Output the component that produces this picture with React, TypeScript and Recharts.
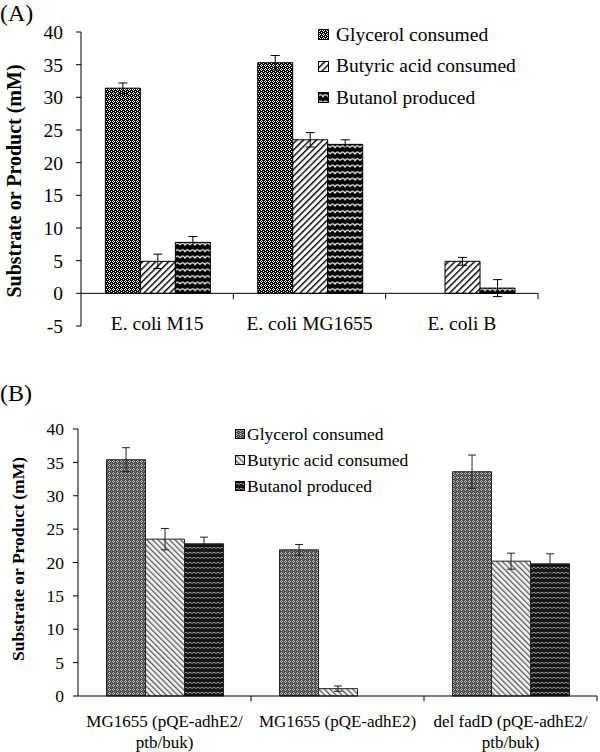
import React from "react";
import { BarChart, Bar, XAxis, YAxis, ErrorBar, Legend, ReferenceLine } from "recharts";

const SERIF = "'Liberation Serif', 'Times New Roman', serif";

const seriesNames = ["Glycerol consumed", "Butyric acid consumed", "Butanol produced"];

// panel A
const strainsA = ["E. coli M15", "E. coli MG1655", "E. coli B"];
const glycerolA = [31.4, 35.3, 0];
const glycerolErrA = [0.8, 1.1, null];
const butyricA = [4.9, 23.5, 4.9];
const butyricErrA = [1.1, 1.1, 0.6];
const butanolA = [7.8, 22.8, 0.8];
const butanolErrA = [0.9, 0.7, 1.3];
const yTicksA = [-5, 0, 5, 10, 15, 20, 25, 30, 35, 40];

// panel B
const strainsB = ["MG1655 (pQE-adhE2/\nptb/buk)", "MG1655 (pQE-adhE2)", "del fadD (pQE-adhE2/\nptb/buk)"];
const glycerolB = [35.4, 21.9, 33.6];
const glycerolErrB = [1.8, 0.8, 2.5];
const butyricB = [23.5, 1.1, 20.2];
const butyricErrB = [1.6, 0.4, 1.2];
const butanolB = [22.8, 0, 19.8];
const butanolErrB = [1.0, null, 1.5];
const yTicksB = [0, 5, 10, 15, 20, 25, 30, 35, 40];

const dataA = strainsA.map((strain, i) => ({
  strain,
  gly: glycerolA[i],
  glyErr: glycerolErrA[i],
  but: butyricA[i],
  butErr: butyricErrA[i],
  bol: butanolA[i],
  bolErr: butanolErrA[i],
}));

const dataB = strainsB.map((strain, i) => ({
  strain,
  gly: glycerolB[i],
  glyErr: glycerolErrB[i],
  but: butyricB[i],
  butErr: butyricErrB[i],
  bol: butanolB[i],
  bolErr: butanolErrB[i],
}));

function makeLegend(fontSize: number, rowH: number, box: number, gap: number) {
  return ({ payload }: any) => {
    // keep the series order (recharts sorts legend items by name)
    const items = [...(payload || [])].sort(
      (a: any, b: any) => seriesNames.indexOf(a.value) - seriesNames.indexOf(b.value)
    );
    return (
      <div style={{ fontFamily: SERIF, fontSize, color: "#000" }}>
        {items.map((p: any) => (
          <div key={p.value} style={{ display: "flex", alignItems: "center", height: rowH, whiteSpace: "nowrap" }}>
            <svg width={box} height={box} style={{ marginRight: gap, flex: "none" }}>
              <rect x={0.5} y={0.5} width={box - 1} height={box - 1} fill={p.payload?.fill ?? p.color} stroke="#000" />
            </svg>
            <span>{p.value}</span>
          </div>
        ))}
      </div>
    );
  };
}

const tickA = (props: any) => {
  const { x, y, payload } = props;
  return (
    <text x={x} y={y + 4} textAnchor="middle" fontFamily={SERIF} fontSize={19.5} fill="#000">
      {payload.value}
    </text>
  );
};

const tickB = (props: any) => {
  const { x, y, payload } = props;
  const lines = String(payload.value).split("\n");
  return (
    <text x={x} y={y + 31} textAnchor="middle" fontFamily={SERIF} fontSize={17} fill="#000">
      {lines.map((l, i) => (
        <tspan key={i} x={x} dy={i ? 21 : 0}>
          {l}
        </tspan>
      ))}
    </text>
  );
};

function PanelA() {
  return (
    <BarChart
      width={600}
      height={352}
      data={dataA}
      margin={{ top: 32, right: 62, bottom: 6, left: 0 }}
      barCategoryGap="16%"
      barGap={0}
    >
      <defs>
        <pattern id="glyA" width={4} height={4} patternUnits="userSpaceOnUse">
          <rect width={4} height={4} fill="#000" />
          <rect x={1} y={0} width={1} height={1} fill="#fff" />
          <rect x={0} y={1} width={1} height={1} fill="#fff" />
          <rect x={2} y={1} width={1} height={1} fill="#fff" />
          <rect x={1} y={2} width={1} height={1} fill="#fff" />
          <rect x={3} y={3} width={1} height={1} fill="#fff" />
        </pattern>
        <pattern id="butA" width={4.6} height={4.6} patternUnits="userSpaceOnUse" patternTransform="rotate(45)">
          <rect width={4.6} height={4.6} fill="#fff" />
          <rect width={1.4} height={4.6} fill="#000" />
        </pattern>
        <pattern id="bolA" width={10} height={6.5} patternUnits="userSpaceOnUse">
          <rect width={10} height={6.5} fill="#000" />
          <path d="M0 4.6 Q2.5 0.6 5 4.6 Q7.5 0.6 10 4.6" stroke="#fff" strokeWidth={1.2} fill="none" />
        </pattern>
      </defs>
      <text x={0} y={21} fontFamily={SERIF} fontSize={24} fill="#000">
        (A)
      </text>
      <text
        x={14}
        y={181}
        transform="rotate(-90 14 181)"
        textAnchor="middle"
        dominantBaseline="central"
        fontFamily={SERIF}
        fontWeight="bold"
        fontSize={20}
        fill="#000"
      >
        Substrate or Product (mM)
      </text>
      <XAxis
        dataKey="strain"
        axisLine={false}
        tickLine={false}
        tickSize={0}
        tickMargin={0}
        height={20}
        interval={0}
        tick={tickA}
      />
      <YAxis
        domain={[-5, 40]}
        ticks={yTicksA}
        interval={0}
        width={81}
        tickSize={5}
        tickMargin={13}
        axisLine={{ stroke: "#000" }}
        tickLine={{ stroke: "#000" }}
        tick={{ fill: "#000", fontSize: 19.5, fontFamily: SERIF }}
        allowDataOverflow
      />
      <Legend
        layout="vertical"
        align="center"
        verticalAlign="middle"
        wrapperStyle={{ top: 19, left: 318, width: "auto" }}
        content={makeLegend(19.5, 31.5, 11, 7)}
      />
      <Bar dataKey="gly" name={seriesNames[0]} fill="url(#glyA)" stroke="#000" strokeWidth={1} isAnimationActive={false}>
        <ErrorBar dataKey="glyErr" width={4.5} stroke="#000" strokeWidth={1} direction="y" />
      </Bar>
      <Bar dataKey="but" name={seriesNames[1]} fill="url(#butA)" stroke="#000" strokeWidth={1} isAnimationActive={false}>
        <ErrorBar dataKey="butErr" width={4.5} stroke="#000" strokeWidth={1} direction="y" />
      </Bar>
      <Bar dataKey="bol" name={seriesNames[2]} fill="url(#bolA)" stroke="#000" strokeWidth={1} isAnimationActive={false}>
        <ErrorBar dataKey="bolErr" width={4.5} stroke="#000" strokeWidth={1} direction="y" />
      </Bar>
      <ReferenceLine y={0} stroke="#000" strokeWidth={1} />
      {strainsA.map((s) => (
        <ReferenceLine
          key={s}
          segment={[
            { x: s, y: 0 },
            { x: s, y: -0.9 },
          ]}
          position="end"
          stroke="#000"
          ifOverflow="visible"
        />
      ))}
    </BarChart>
  );
}

function PanelB() {
  return (
    <BarChart
      width={600}
      height={392}
      data={dataB}
      margin={{ top: 69, right: 3, bottom: 6, left: 0 }}
      barCategoryGap="16.5%"
      barGap={0}
    >
      <defs>
        <pattern id="glyB" width={4} height={4} patternUnits="userSpaceOnUse">
          <rect width={4} height={4} fill="#4a4a4a" />
          <rect x={1} y={0} width={1} height={1} fill="#c4c4c4" />
          <rect x={0} y={1} width={1} height={1} fill="#c4c4c4" />
          <rect x={2} y={1} width={1} height={1} fill="#c4c4c4" />
          <rect x={1} y={2} width={1} height={1} fill="#c4c4c4" />
          <rect x={3} y={3} width={1} height={1} fill="#8a8a8a" />
        </pattern>
        <pattern id="butB" width={4} height={4} patternUnits="userSpaceOnUse" patternTransform="rotate(-45)">
          <rect width={4} height={4} fill="#f4f4f4" />
          <rect width={1.3} height={4} fill="#5a5a5a" />
        </pattern>
        <pattern id="bolB" width={8} height={5} patternUnits="userSpaceOnUse">
          <rect width={8} height={5} fill="#151515" />
          <path d="M0 3.6 Q2 0.6 4 3.6 Q6 0.6 8 3.6" stroke="#9a9a9a" strokeWidth={1} fill="none" />
        </pattern>
      </defs>
      <text x={0} y={41} fontFamily={SERIF} fontSize={24} fill="#000">
        (B)
      </text>
      <text
        x={18}
        y={199}
        transform="rotate(-90 18 199)"
        textAnchor="middle"
        dominantBaseline="central"
        fontFamily={SERIF}
        fontWeight="bold"
        fontSize={17.5}
        fill="#000"
      >
        Substrate or Product (mM)
      </text>
      <XAxis
        dataKey="strain"
        axisLine={{ stroke: "#000" }}
        tickLine={false}
        tickSize={0}
        tickMargin={0}
        height={50}
        interval={0}
        tick={tickB}
      />
      <YAxis
        domain={[0, 40]}
        ticks={yTicksB}
        interval={0}
        width={78}
        tickSize={5}
        tickMargin={9}
        axisLine={{ stroke: "#000" }}
        tickLine={{ stroke: "#000" }}
        tick={{ fill: "#000", fontSize: 17.5, fontFamily: SERIF }}
      />
      <Legend
        layout="vertical"
        align="center"
        verticalAlign="middle"
        wrapperStyle={{ top: 61, left: 235, width: "auto" }}
        content={makeLegend(17.5, 26, 10, 2)}
      />
      <Bar dataKey="gly" name={seriesNames[0]} fill="url(#glyB)" stroke="#222" strokeWidth={1} isAnimationActive={false}>
        <ErrorBar dataKey="glyErr" width={4} stroke="#222" strokeWidth={1} direction="y" />
      </Bar>
      <Bar dataKey="but" name={seriesNames[1]} fill="url(#butB)" stroke="#222" strokeWidth={1} isAnimationActive={false}>
        <ErrorBar dataKey="butErr" width={4} stroke="#222" strokeWidth={1} direction="y" />
      </Bar>
      <Bar dataKey="bol" name={seriesNames[2]} fill="url(#bolB)" stroke="#222" strokeWidth={1} isAnimationActive={false}>
        <ErrorBar dataKey="bolErr" width={4} stroke="#222" strokeWidth={1} direction="y" />
      </Bar>
      {strainsB.map((s) => (
        <ReferenceLine
          key={s}
          segment={[
            { x: s, y: 0 },
            { x: s, y: -0.8 },
          ]}
          position="end"
          stroke="#000"
          ifOverflow="visible"
        />
      ))}
    </BarChart>
  );
}

export default function App() {
  return (
    <div style={{ position: "relative", width: 600, height: 752, background: "#fff" }}>
      <style>{`body{margin:0}`}</style>
      <div style={{ position: "absolute", top: 0, left: 0 }}>
        <PanelA />
      </div>
      <div style={{ position: "absolute", top: 360, left: 0 }}>
        <PanelB />
      </div>
    </div>
  );
}
